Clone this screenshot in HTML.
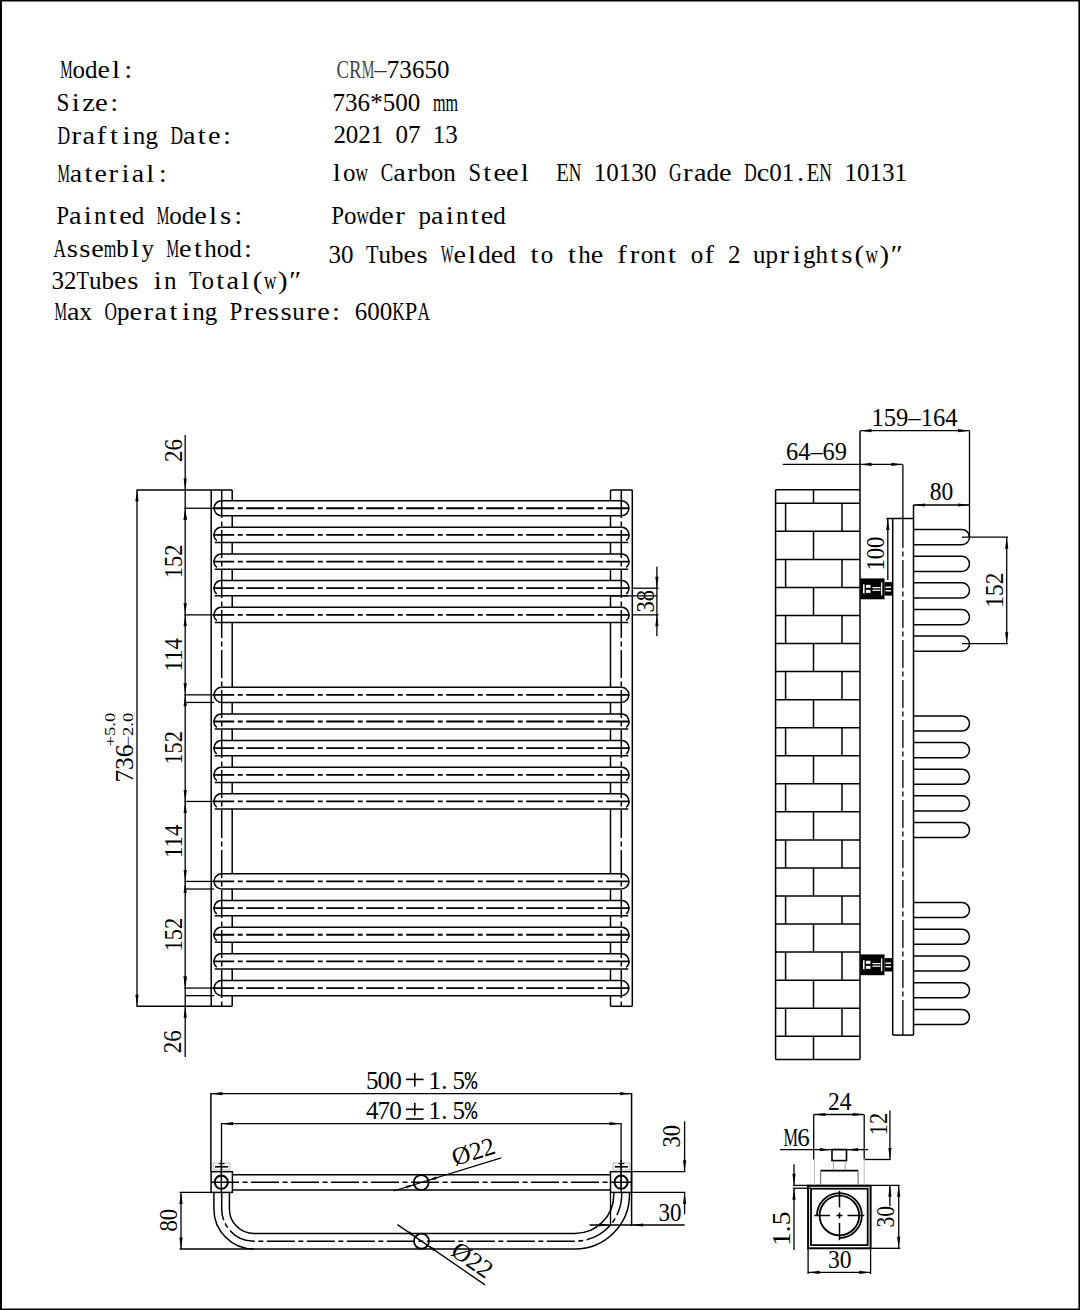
<!DOCTYPE html>
<html><head><meta charset="utf-8"><style>
html,body{margin:0;padding:0;background:#fff;}
svg{display:block;}
text{font-family:"Liberation Serif", serif;}
</style></head><body>
<svg width="1080" height="1310" viewBox="0 0 1080 1310">
<rect width="1080" height="1310" fill="#fff"/>
<rect x="0" y="0" width="2" height="1310" fill="#000"/>
<rect x="0" y="0" width="1080" height="1.5" fill="#000"/>
<rect x="1078.4" y="0" width="1.6" height="1310" fill="#000"/>
<rect x="0" y="1308.5" width="1080" height="1.5" fill="#000"/>
<g font-family="Liberation Serif"><text x="66.48" y="78.2" font-size="25" fill="#000" text-anchor="middle" textLength="12.37" lengthAdjust="spacingAndGlyphs">M</text><text x="78.85" y="78.2" font-size="25" fill="#000" text-anchor="middle">o</text><text x="91.22" y="78.2" font-size="25" fill="#000" text-anchor="middle">d</text><text x="103.59" y="78.2" font-size="25" fill="#000" text-anchor="middle" textLength="12.37" lengthAdjust="spacingAndGlyphs">e</text><text x="115.97" y="78.2" font-size="25" fill="#000" text-anchor="middle" textLength="7.99" lengthAdjust="spacingAndGlyphs">l</text><text x="128.33" y="78.2" font-size="25" fill="#000" text-anchor="middle" textLength="7.99" lengthAdjust="spacingAndGlyphs">:</text></g>
<g font-family="Liberation Serif"><text x="62.92" y="110.6" font-size="25" fill="#000" text-anchor="middle" textLength="12.85" lengthAdjust="spacingAndGlyphs">S</text><text x="75.78" y="110.6" font-size="25" fill="#000" text-anchor="middle" textLength="7.99" lengthAdjust="spacingAndGlyphs">i</text><text x="88.62" y="110.6" font-size="25" fill="#000" text-anchor="middle" textLength="12.76" lengthAdjust="spacingAndGlyphs">z</text><text x="101.47" y="110.6" font-size="25" fill="#000" text-anchor="middle" textLength="12.76" lengthAdjust="spacingAndGlyphs">e</text><text x="114.32" y="110.6" font-size="25" fill="#000" text-anchor="middle" textLength="7.99" lengthAdjust="spacingAndGlyphs">:</text></g>
<g font-family="Liberation Serif"><text x="63.78" y="143.7" font-size="25" fill="#000" text-anchor="middle" textLength="12.55" lengthAdjust="spacingAndGlyphs">D</text><text x="76.33" y="143.7" font-size="25" fill="#000" text-anchor="middle" textLength="9.57" lengthAdjust="spacingAndGlyphs">r</text><text x="88.88" y="143.7" font-size="25" fill="#000" text-anchor="middle" textLength="12.55" lengthAdjust="spacingAndGlyphs">a</text><text x="101.43" y="143.7" font-size="25" fill="#000" text-anchor="middle" textLength="9.57" lengthAdjust="spacingAndGlyphs">f</text><text x="113.98" y="143.7" font-size="25" fill="#000" text-anchor="middle" textLength="7.99" lengthAdjust="spacingAndGlyphs">t</text><text x="126.53" y="143.7" font-size="25" fill="#000" text-anchor="middle" textLength="7.99" lengthAdjust="spacingAndGlyphs">i</text><text x="139.08" y="143.7" font-size="25" fill="#000" text-anchor="middle">n</text><text x="151.63" y="143.7" font-size="25" fill="#000" text-anchor="middle">g</text><text x="176.73" y="143.7" font-size="25" fill="#000" text-anchor="middle" textLength="12.55" lengthAdjust="spacingAndGlyphs">D</text><text x="189.29" y="143.7" font-size="25" fill="#000" text-anchor="middle" textLength="12.55" lengthAdjust="spacingAndGlyphs">a</text><text x="201.84" y="143.7" font-size="25" fill="#000" text-anchor="middle" textLength="7.99" lengthAdjust="spacingAndGlyphs">t</text><text x="214.39" y="143.7" font-size="25" fill="#000" text-anchor="middle" textLength="12.55" lengthAdjust="spacingAndGlyphs">e</text><text x="226.94" y="143.7" font-size="25" fill="#000" text-anchor="middle" textLength="7.99" lengthAdjust="spacingAndGlyphs">:</text></g>
<g font-family="Liberation Serif"><text x="63.69" y="181.5" font-size="25" fill="#000" text-anchor="middle" textLength="12.38" lengthAdjust="spacingAndGlyphs">M</text><text x="76.06" y="181.5" font-size="25" fill="#000" text-anchor="middle" textLength="12.38" lengthAdjust="spacingAndGlyphs">a</text><text x="88.44" y="181.5" font-size="25" fill="#000" text-anchor="middle" textLength="7.99" lengthAdjust="spacingAndGlyphs">t</text><text x="100.81" y="181.5" font-size="25" fill="#000" text-anchor="middle" textLength="12.38" lengthAdjust="spacingAndGlyphs">e</text><text x="113.19" y="181.5" font-size="25" fill="#000" text-anchor="middle" textLength="9.57" lengthAdjust="spacingAndGlyphs">r</text><text x="125.56" y="181.5" font-size="25" fill="#000" text-anchor="middle" textLength="7.99" lengthAdjust="spacingAndGlyphs">i</text><text x="137.94" y="181.5" font-size="25" fill="#000" text-anchor="middle" textLength="12.38" lengthAdjust="spacingAndGlyphs">a</text><text x="150.31" y="181.5" font-size="25" fill="#000" text-anchor="middle" textLength="7.99" lengthAdjust="spacingAndGlyphs">l</text><text x="162.69" y="181.5" font-size="25" fill="#000" text-anchor="middle" textLength="7.99" lengthAdjust="spacingAndGlyphs">:</text></g>
<g font-family="Liberation Serif"><text x="62.76" y="223.9" font-size="25" fill="#000" text-anchor="middle" textLength="12.53" lengthAdjust="spacingAndGlyphs">P</text><text x="75.29" y="223.9" font-size="25" fill="#000" text-anchor="middle" textLength="12.53" lengthAdjust="spacingAndGlyphs">a</text><text x="87.82" y="223.9" font-size="25" fill="#000" text-anchor="middle" textLength="7.99" lengthAdjust="spacingAndGlyphs">i</text><text x="100.35" y="223.9" font-size="25" fill="#000" text-anchor="middle">n</text><text x="112.88" y="223.9" font-size="25" fill="#000" text-anchor="middle" textLength="7.99" lengthAdjust="spacingAndGlyphs">t</text><text x="125.41" y="223.9" font-size="25" fill="#000" text-anchor="middle" textLength="12.53" lengthAdjust="spacingAndGlyphs">e</text><text x="137.94" y="223.9" font-size="25" fill="#000" text-anchor="middle">d</text><text x="163" y="223.9" font-size="25" fill="#000" text-anchor="middle" textLength="12.53" lengthAdjust="spacingAndGlyphs">M</text><text x="175.53" y="223.9" font-size="25" fill="#000" text-anchor="middle">o</text><text x="188.05" y="223.9" font-size="25" fill="#000" text-anchor="middle">d</text><text x="200.58" y="223.9" font-size="25" fill="#000" text-anchor="middle" textLength="12.53" lengthAdjust="spacingAndGlyphs">e</text><text x="213.11" y="223.9" font-size="25" fill="#000" text-anchor="middle" textLength="7.99" lengthAdjust="spacingAndGlyphs">l</text><text x="225.64" y="223.9" font-size="25" fill="#000" text-anchor="middle" textLength="11.19" lengthAdjust="spacingAndGlyphs">s</text><text x="238.17" y="223.9" font-size="25" fill="#000" text-anchor="middle" textLength="7.99" lengthAdjust="spacingAndGlyphs">:</text></g>
<g font-family="Liberation Serif"><text x="59.78" y="257.2" font-size="25" fill="#000" text-anchor="middle" textLength="12.56" lengthAdjust="spacingAndGlyphs">A</text><text x="72.34" y="257.2" font-size="25" fill="#000" text-anchor="middle" textLength="11.19" lengthAdjust="spacingAndGlyphs">s</text><text x="84.89" y="257.2" font-size="25" fill="#000" text-anchor="middle" textLength="11.19" lengthAdjust="spacingAndGlyphs">s</text><text x="97.45" y="257.2" font-size="25" fill="#000" text-anchor="middle" textLength="12.56" lengthAdjust="spacingAndGlyphs">e</text><text x="110.01" y="257.2" font-size="25" fill="#000" text-anchor="middle" textLength="12.56" lengthAdjust="spacingAndGlyphs">m</text><text x="122.56" y="257.2" font-size="25" fill="#000" text-anchor="middle">b</text><text x="135.12" y="257.2" font-size="25" fill="#000" text-anchor="middle" textLength="7.99" lengthAdjust="spacingAndGlyphs">l</text><text x="147.68" y="257.2" font-size="25" fill="#000" text-anchor="middle">y</text><text x="172.79" y="257.2" font-size="25" fill="#000" text-anchor="middle" textLength="12.56" lengthAdjust="spacingAndGlyphs">M</text><text x="185.35" y="257.2" font-size="25" fill="#000" text-anchor="middle" textLength="12.56" lengthAdjust="spacingAndGlyphs">e</text><text x="197.91" y="257.2" font-size="25" fill="#000" text-anchor="middle" textLength="7.99" lengthAdjust="spacingAndGlyphs">t</text><text x="210.46" y="257.2" font-size="25" fill="#000" text-anchor="middle">h</text><text x="223.02" y="257.2" font-size="25" fill="#000" text-anchor="middle">o</text><text x="235.58" y="257.2" font-size="25" fill="#000" text-anchor="middle">d</text><text x="248.13" y="257.2" font-size="25" fill="#000" text-anchor="middle" textLength="7.99" lengthAdjust="spacingAndGlyphs">:</text></g>
<g font-family="Liberation Serif"><text x="57.75" y="289.2" font-size="25" fill="#000" text-anchor="middle">3</text><text x="70.24" y="289.2" font-size="25" fill="#000" text-anchor="middle">2</text><text x="82.74" y="289.2" font-size="25" fill="#000" text-anchor="middle" textLength="12.49" lengthAdjust="spacingAndGlyphs">T</text><text x="95.23" y="289.2" font-size="25" fill="#000" text-anchor="middle">u</text><text x="107.73" y="289.2" font-size="25" fill="#000" text-anchor="middle">b</text><text x="120.22" y="289.2" font-size="25" fill="#000" text-anchor="middle" textLength="12.49" lengthAdjust="spacingAndGlyphs">e</text><text x="132.72" y="289.2" font-size="25" fill="#000" text-anchor="middle" textLength="11.19" lengthAdjust="spacingAndGlyphs">s</text><text x="157.71" y="289.2" font-size="25" fill="#000" text-anchor="middle" textLength="7.99" lengthAdjust="spacingAndGlyphs">i</text><text x="170.2" y="289.2" font-size="25" fill="#000" text-anchor="middle">n</text><text x="195.19" y="289.2" font-size="25" fill="#000" text-anchor="middle" textLength="12.49" lengthAdjust="spacingAndGlyphs">T</text><text x="207.69" y="289.2" font-size="25" fill="#000" text-anchor="middle">o</text><text x="220.18" y="289.2" font-size="25" fill="#000" text-anchor="middle" textLength="7.99" lengthAdjust="spacingAndGlyphs">t</text><text x="232.68" y="289.2" font-size="25" fill="#000" text-anchor="middle" textLength="12.49" lengthAdjust="spacingAndGlyphs">a</text><text x="245.17" y="289.2" font-size="25" fill="#000" text-anchor="middle" textLength="7.99" lengthAdjust="spacingAndGlyphs">l</text><text x="257.67" y="289.2" font-size="25" fill="#000" text-anchor="middle" textLength="9.57" lengthAdjust="spacingAndGlyphs">(</text><text x="270.16" y="289.2" font-size="25" fill="#000" text-anchor="middle" textLength="12.49" lengthAdjust="spacingAndGlyphs">w</text><text x="282.66" y="289.2" font-size="25" fill="#000" text-anchor="middle" textLength="9.57" lengthAdjust="spacingAndGlyphs">)</text><text x="295.15" y="289.2" font-size="25" fill="#000" text-anchor="middle" textLength="11.97" lengthAdjust="spacingAndGlyphs">″</text></g>
<g font-family="Liberation Serif"><text x="60.76" y="319.7" font-size="25" fill="#000" text-anchor="middle" textLength="12.51" lengthAdjust="spacingAndGlyphs">M</text><text x="73.27" y="319.7" font-size="25" fill="#000" text-anchor="middle" textLength="12.51" lengthAdjust="spacingAndGlyphs">a</text><text x="85.78" y="319.7" font-size="25" fill="#000" text-anchor="middle">x</text><text x="110.81" y="319.7" font-size="25" fill="#000" text-anchor="middle" textLength="12.51" lengthAdjust="spacingAndGlyphs">O</text><text x="123.32" y="319.7" font-size="25" fill="#000" text-anchor="middle">p</text><text x="135.83" y="319.7" font-size="25" fill="#000" text-anchor="middle" textLength="12.51" lengthAdjust="spacingAndGlyphs">e</text><text x="148.35" y="319.7" font-size="25" fill="#000" text-anchor="middle" textLength="9.57" lengthAdjust="spacingAndGlyphs">r</text><text x="160.86" y="319.7" font-size="25" fill="#000" text-anchor="middle" textLength="12.51" lengthAdjust="spacingAndGlyphs">a</text><text x="173.37" y="319.7" font-size="25" fill="#000" text-anchor="middle" textLength="7.99" lengthAdjust="spacingAndGlyphs">t</text><text x="185.89" y="319.7" font-size="25" fill="#000" text-anchor="middle" textLength="7.99" lengthAdjust="spacingAndGlyphs">i</text><text x="198.4" y="319.7" font-size="25" fill="#000" text-anchor="middle">n</text><text x="210.91" y="319.7" font-size="25" fill="#000" text-anchor="middle">g</text><text x="235.94" y="319.7" font-size="25" fill="#000" text-anchor="middle" textLength="12.51" lengthAdjust="spacingAndGlyphs">P</text><text x="248.45" y="319.7" font-size="25" fill="#000" text-anchor="middle" textLength="9.57" lengthAdjust="spacingAndGlyphs">r</text><text x="260.96" y="319.7" font-size="25" fill="#000" text-anchor="middle" textLength="12.51" lengthAdjust="spacingAndGlyphs">e</text><text x="273.48" y="319.7" font-size="25" fill="#000" text-anchor="middle" textLength="11.19" lengthAdjust="spacingAndGlyphs">s</text><text x="285.99" y="319.7" font-size="25" fill="#000" text-anchor="middle" textLength="11.19" lengthAdjust="spacingAndGlyphs">s</text><text x="298.5" y="319.7" font-size="25" fill="#000" text-anchor="middle">u</text><text x="311.02" y="319.7" font-size="25" fill="#000" text-anchor="middle" textLength="9.57" lengthAdjust="spacingAndGlyphs">r</text><text x="323.53" y="319.7" font-size="25" fill="#000" text-anchor="middle" textLength="12.51" lengthAdjust="spacingAndGlyphs">e</text><text x="336.04" y="319.7" font-size="25" fill="#000" text-anchor="middle" textLength="7.99" lengthAdjust="spacingAndGlyphs">:</text><text x="361.07" y="319.7" font-size="25" fill="#000" text-anchor="middle">6</text><text x="373.58" y="319.7" font-size="25" fill="#000" text-anchor="middle">0</text><text x="386.09" y="319.7" font-size="25" fill="#000" text-anchor="middle">0</text><text x="398.61" y="319.7" font-size="25" fill="#000" text-anchor="middle" textLength="12.51" lengthAdjust="spacingAndGlyphs">K</text><text x="411.12" y="319.7" font-size="25" fill="#000" text-anchor="middle" textLength="12.51" lengthAdjust="spacingAndGlyphs">P</text><text x="423.63" y="319.7" font-size="25" fill="#000" text-anchor="middle" textLength="12.51" lengthAdjust="spacingAndGlyphs">A</text></g>
<g font-family="Liberation Serif"><text x="342.78" y="77.8" font-size="25" fill="#444" text-anchor="middle" textLength="12.57" lengthAdjust="spacingAndGlyphs">C</text><text x="355.35" y="77.8" font-size="25" fill="#444" text-anchor="middle" textLength="12.57" lengthAdjust="spacingAndGlyphs">R</text><text x="367.92" y="77.8" font-size="25" fill="#444" text-anchor="middle" textLength="12.57" lengthAdjust="spacingAndGlyphs">M</text><text x="380.48" y="77.8" font-size="25" fill="#333" text-anchor="middle">–</text><text x="393.05" y="77.8" font-size="25" fill="#000" text-anchor="middle">7</text><text x="405.62" y="77.8" font-size="25" fill="#000" text-anchor="middle">3</text><text x="418.19" y="77.8" font-size="25" fill="#000" text-anchor="middle">6</text><text x="430.75" y="77.8" font-size="25" fill="#000" text-anchor="middle">5</text><text x="443.32" y="77.8" font-size="25" fill="#000" text-anchor="middle">0</text></g>
<g font-family="Liberation Serif"><text x="338.77" y="110.6" font-size="25" fill="#000" text-anchor="middle">7</text><text x="351.32" y="110.6" font-size="25" fill="#000" text-anchor="middle">3</text><text x="363.87" y="110.6" font-size="25" fill="#000" text-anchor="middle">6</text><text x="376.42" y="110.6" font-size="25" fill="#000" text-anchor="middle">*</text><text x="388.97" y="110.6" font-size="25" fill="#000" text-anchor="middle">5</text><text x="401.52" y="110.6" font-size="25" fill="#000" text-anchor="middle">0</text><text x="414.07" y="110.6" font-size="25" fill="#000" text-anchor="middle">0</text><text x="439.17" y="110.6" font-size="25" fill="#000" text-anchor="middle" textLength="12.55" lengthAdjust="spacingAndGlyphs">m</text><text x="451.72" y="110.6" font-size="25" fill="#000" text-anchor="middle" textLength="12.55" lengthAdjust="spacingAndGlyphs">m</text></g>
<g font-family="Liberation Serif"><text x="339.71" y="143" font-size="25" fill="#000" text-anchor="middle">2</text><text x="352.12" y="143" font-size="25" fill="#000" text-anchor="middle">0</text><text x="364.54" y="143" font-size="25" fill="#000" text-anchor="middle">2</text><text x="376.95" y="143" font-size="25" fill="#000" text-anchor="middle">1</text><text x="401.78" y="143" font-size="25" fill="#000" text-anchor="middle">0</text><text x="414.19" y="143" font-size="25" fill="#000" text-anchor="middle">7</text><text x="439.02" y="143" font-size="25" fill="#000" text-anchor="middle">1</text><text x="451.43" y="143" font-size="25" fill="#000" text-anchor="middle">3</text></g>
<g font-family="Liberation Serif"><text x="336.77" y="180.6" font-size="25" fill="#000" text-anchor="middle" textLength="7.99" lengthAdjust="spacingAndGlyphs">l</text><text x="349.3" y="180.6" font-size="25" fill="#000" text-anchor="middle">o</text><text x="361.84" y="180.6" font-size="25" fill="#000" text-anchor="middle" textLength="12.54" lengthAdjust="spacingAndGlyphs">w</text><text x="386.91" y="180.6" font-size="25" fill="#000" text-anchor="middle" textLength="12.54" lengthAdjust="spacingAndGlyphs">C</text><text x="399.44" y="180.6" font-size="25" fill="#000" text-anchor="middle" textLength="12.54" lengthAdjust="spacingAndGlyphs">a</text><text x="411.98" y="180.6" font-size="25" fill="#000" text-anchor="middle" textLength="9.57" lengthAdjust="spacingAndGlyphs">r</text><text x="424.51" y="180.6" font-size="25" fill="#000" text-anchor="middle">b</text><text x="437.05" y="180.6" font-size="25" fill="#000" text-anchor="middle">o</text><text x="449.58" y="180.6" font-size="25" fill="#000" text-anchor="middle">n</text><text x="474.65" y="180.6" font-size="25" fill="#000" text-anchor="middle" textLength="12.54" lengthAdjust="spacingAndGlyphs">S</text><text x="487.19" y="180.6" font-size="25" fill="#000" text-anchor="middle" textLength="7.99" lengthAdjust="spacingAndGlyphs">t</text><text x="499.72" y="180.6" font-size="25" fill="#000" text-anchor="middle" textLength="12.54" lengthAdjust="spacingAndGlyphs">e</text><text x="512.26" y="180.6" font-size="25" fill="#000" text-anchor="middle" textLength="12.54" lengthAdjust="spacingAndGlyphs">e</text><text x="524.79" y="180.6" font-size="25" fill="#000" text-anchor="middle" textLength="7.99" lengthAdjust="spacingAndGlyphs">l</text><text x="562.4" y="180.6" font-size="25" fill="#000" text-anchor="middle" textLength="12.54" lengthAdjust="spacingAndGlyphs">E</text><text x="574.93" y="180.6" font-size="25" fill="#000" text-anchor="middle" textLength="12.54" lengthAdjust="spacingAndGlyphs">N</text><text x="600" y="180.6" font-size="25" fill="#000" text-anchor="middle">1</text><text x="612.54" y="180.6" font-size="25" fill="#000" text-anchor="middle">0</text><text x="625.07" y="180.6" font-size="25" fill="#000" text-anchor="middle">1</text><text x="637.61" y="180.6" font-size="25" fill="#000" text-anchor="middle">3</text><text x="650.14" y="180.6" font-size="25" fill="#000" text-anchor="middle">0</text><text x="675.21" y="180.6" font-size="25" fill="#000" text-anchor="middle" textLength="12.54" lengthAdjust="spacingAndGlyphs">G</text><text x="687.75" y="180.6" font-size="25" fill="#000" text-anchor="middle" textLength="9.57" lengthAdjust="spacingAndGlyphs">r</text><text x="700.28" y="180.6" font-size="25" fill="#000" text-anchor="middle" textLength="12.54" lengthAdjust="spacingAndGlyphs">a</text><text x="712.82" y="180.6" font-size="25" fill="#000" text-anchor="middle">d</text><text x="725.35" y="180.6" font-size="25" fill="#000" text-anchor="middle" textLength="12.54" lengthAdjust="spacingAndGlyphs">e</text><text x="750.42" y="180.6" font-size="25" fill="#000" text-anchor="middle" textLength="12.54" lengthAdjust="spacingAndGlyphs">D</text><text x="762.96" y="180.6" font-size="25" fill="#000" text-anchor="middle" textLength="12.54" lengthAdjust="spacingAndGlyphs">c</text><text x="775.49" y="180.6" font-size="25" fill="#000" text-anchor="middle">0</text><text x="788.03" y="180.6" font-size="25" fill="#000" text-anchor="middle">1</text><text x="800.56" y="180.6" font-size="25" fill="#000" text-anchor="middle" textLength="7.19" lengthAdjust="spacingAndGlyphs">.</text><text x="813.1" y="180.6" font-size="25" fill="#000" text-anchor="middle" textLength="12.54" lengthAdjust="spacingAndGlyphs">E</text><text x="825.63" y="180.6" font-size="25" fill="#000" text-anchor="middle" textLength="12.54" lengthAdjust="spacingAndGlyphs">N</text><text x="850.7" y="180.6" font-size="25" fill="#000" text-anchor="middle">1</text><text x="863.24" y="180.6" font-size="25" fill="#000" text-anchor="middle">0</text><text x="875.77" y="180.6" font-size="25" fill="#000" text-anchor="middle">1</text><text x="888.31" y="180.6" font-size="25" fill="#000" text-anchor="middle">3</text><text x="900.84" y="180.6" font-size="25" fill="#000" text-anchor="middle">1</text></g>
<g font-family="Liberation Serif"><text x="337.72" y="223.5" font-size="25" fill="#000" text-anchor="middle" textLength="12.45" lengthAdjust="spacingAndGlyphs">P</text><text x="350.17" y="223.5" font-size="25" fill="#000" text-anchor="middle">o</text><text x="362.61" y="223.5" font-size="25" fill="#000" text-anchor="middle" textLength="12.45" lengthAdjust="spacingAndGlyphs">w</text><text x="375.06" y="223.5" font-size="25" fill="#000" text-anchor="middle">d</text><text x="387.5" y="223.5" font-size="25" fill="#000" text-anchor="middle" textLength="12.45" lengthAdjust="spacingAndGlyphs">e</text><text x="399.95" y="223.5" font-size="25" fill="#000" text-anchor="middle" textLength="9.57" lengthAdjust="spacingAndGlyphs">r</text><text x="424.84" y="223.5" font-size="25" fill="#000" text-anchor="middle">p</text><text x="437.28" y="223.5" font-size="25" fill="#000" text-anchor="middle" textLength="12.45" lengthAdjust="spacingAndGlyphs">a</text><text x="449.73" y="223.5" font-size="25" fill="#000" text-anchor="middle" textLength="7.99" lengthAdjust="spacingAndGlyphs">i</text><text x="462.17" y="223.5" font-size="25" fill="#000" text-anchor="middle">n</text><text x="474.62" y="223.5" font-size="25" fill="#000" text-anchor="middle" textLength="7.99" lengthAdjust="spacingAndGlyphs">t</text><text x="487.06" y="223.5" font-size="25" fill="#000" text-anchor="middle" textLength="12.45" lengthAdjust="spacingAndGlyphs">e</text><text x="499.51" y="223.5" font-size="25" fill="#000" text-anchor="middle">d</text></g>
<g font-family="Liberation Serif"><text x="334.74" y="263.2" font-size="25" fill="#000" text-anchor="middle">3</text><text x="347.23" y="263.2" font-size="25" fill="#000" text-anchor="middle">0</text><text x="372.21" y="263.2" font-size="25" fill="#000" text-anchor="middle" textLength="12.49" lengthAdjust="spacingAndGlyphs">T</text><text x="384.7" y="263.2" font-size="25" fill="#000" text-anchor="middle">u</text><text x="397.18" y="263.2" font-size="25" fill="#000" text-anchor="middle">b</text><text x="409.67" y="263.2" font-size="25" fill="#000" text-anchor="middle" textLength="12.49" lengthAdjust="spacingAndGlyphs">e</text><text x="422.16" y="263.2" font-size="25" fill="#000" text-anchor="middle" textLength="11.19" lengthAdjust="spacingAndGlyphs">s</text><text x="447.14" y="263.2" font-size="25" fill="#000" text-anchor="middle" textLength="12.49" lengthAdjust="spacingAndGlyphs">W</text><text x="459.62" y="263.2" font-size="25" fill="#000" text-anchor="middle" textLength="12.49" lengthAdjust="spacingAndGlyphs">e</text><text x="472.11" y="263.2" font-size="25" fill="#000" text-anchor="middle" textLength="7.99" lengthAdjust="spacingAndGlyphs">l</text><text x="484.6" y="263.2" font-size="25" fill="#000" text-anchor="middle">d</text><text x="497.09" y="263.2" font-size="25" fill="#000" text-anchor="middle" textLength="12.49" lengthAdjust="spacingAndGlyphs">e</text><text x="509.58" y="263.2" font-size="25" fill="#000" text-anchor="middle">d</text><text x="534.55" y="263.2" font-size="25" fill="#000" text-anchor="middle" textLength="7.99" lengthAdjust="spacingAndGlyphs">t</text><text x="547.04" y="263.2" font-size="25" fill="#000" text-anchor="middle">o</text><text x="572.02" y="263.2" font-size="25" fill="#000" text-anchor="middle" textLength="7.99" lengthAdjust="spacingAndGlyphs">t</text><text x="584.5" y="263.2" font-size="25" fill="#000" text-anchor="middle">h</text><text x="596.99" y="263.2" font-size="25" fill="#000" text-anchor="middle" textLength="12.49" lengthAdjust="spacingAndGlyphs">e</text><text x="621.97" y="263.2" font-size="25" fill="#000" text-anchor="middle" textLength="9.57" lengthAdjust="spacingAndGlyphs">f</text><text x="634.46" y="263.2" font-size="25" fill="#000" text-anchor="middle" textLength="9.57" lengthAdjust="spacingAndGlyphs">r</text><text x="646.94" y="263.2" font-size="25" fill="#000" text-anchor="middle">o</text><text x="659.43" y="263.2" font-size="25" fill="#000" text-anchor="middle">n</text><text x="671.92" y="263.2" font-size="25" fill="#000" text-anchor="middle" textLength="7.99" lengthAdjust="spacingAndGlyphs">t</text><text x="696.9" y="263.2" font-size="25" fill="#000" text-anchor="middle">o</text><text x="709.38" y="263.2" font-size="25" fill="#000" text-anchor="middle" textLength="9.57" lengthAdjust="spacingAndGlyphs">f</text><text x="734.36" y="263.2" font-size="25" fill="#000" text-anchor="middle">2</text><text x="759.34" y="263.2" font-size="25" fill="#000" text-anchor="middle">u</text><text x="771.82" y="263.2" font-size="25" fill="#000" text-anchor="middle">p</text><text x="784.31" y="263.2" font-size="25" fill="#000" text-anchor="middle" textLength="9.57" lengthAdjust="spacingAndGlyphs">r</text><text x="796.8" y="263.2" font-size="25" fill="#000" text-anchor="middle" textLength="7.99" lengthAdjust="spacingAndGlyphs">i</text><text x="809.29" y="263.2" font-size="25" fill="#000" text-anchor="middle">g</text><text x="821.78" y="263.2" font-size="25" fill="#000" text-anchor="middle">h</text><text x="834.26" y="263.2" font-size="25" fill="#000" text-anchor="middle" textLength="7.99" lengthAdjust="spacingAndGlyphs">t</text><text x="846.75" y="263.2" font-size="25" fill="#000" text-anchor="middle" textLength="11.19" lengthAdjust="spacingAndGlyphs">s</text><text x="859.24" y="263.2" font-size="25" fill="#000" text-anchor="middle" textLength="9.57" lengthAdjust="spacingAndGlyphs">(</text><text x="871.73" y="263.2" font-size="25" fill="#000" text-anchor="middle" textLength="12.49" lengthAdjust="spacingAndGlyphs">w</text><text x="884.22" y="263.2" font-size="25" fill="#000" text-anchor="middle" textLength="9.57" lengthAdjust="spacingAndGlyphs">)</text><text x="896.7" y="263.2" font-size="25" fill="#000" text-anchor="middle" textLength="11.97" lengthAdjust="spacingAndGlyphs">″</text></g>
<line x1="211.2" y1="490" x2="211.2" y2="1006.3" stroke="#000" stroke-width="1.5"/>
<line x1="632.3" y1="490" x2="632.3" y2="1006.3" stroke="#000" stroke-width="1.5"/>
<line x1="232.2" y1="490" x2="232.2" y2="1006.3" stroke="#000" stroke-width="1.5"/>
<line x1="610.5" y1="490" x2="610.5" y2="1006.3" stroke="#000" stroke-width="1.5"/>
<line x1="136.5" y1="490" x2="232.2" y2="490" stroke="#000" stroke-width="1.5"/>
<line x1="610.5" y1="490" x2="632.3" y2="490" stroke="#000" stroke-width="1.5"/>
<line x1="136.5" y1="1006.3" x2="232.2" y2="1006.3" stroke="#000" stroke-width="1.5"/>
<line x1="610.5" y1="1006.3" x2="632.3" y2="1006.3" stroke="#000" stroke-width="1.5"/>
<path d="M221.7 500.64 L621.3 500.64 A7.6 7.6 0 0 1 621.3 515.84 L221.7 515.84 A7.6 7.6 0 0 1 221.7 500.64 Z" fill="#fff"/>
<line x1="221.7" y1="500.64" x2="621.3" y2="500.64" stroke="#000" stroke-width="1.5"/>
<path d="M221.7 500.64 A7.6 7.6 0 0 0 221.7 515.84" fill="none" stroke="#000" stroke-width="1.5"/>
<path d="M621.3 500.64 A7.6 7.6 0 0 1 621.3 515.84" fill="none" stroke="#000" stroke-width="1.5"/>
<line x1="221.7" y1="515.84" x2="621.3" y2="515.84" stroke="#000" stroke-width="1.5"/>
<line x1="213.2" y1="508.24" x2="629.3" y2="508.24" stroke="#000" stroke-width="1.8" stroke-dasharray="28 3.5 5 3.5" stroke-dashoffset="7"/>
<path d="M221.7 527.3 L621.3 527.3 A7.6 7.6 0 0 1 621.3 542.5 L221.7 542.5 A7.6 7.6 0 0 1 221.7 527.3 Z" fill="#fff"/>
<line x1="221.7" y1="527.3" x2="621.3" y2="527.3" stroke="#000" stroke-width="1.5"/>
<path d="M221.7 527.3 A7.6 7.6 0 0 0 216.81 540.72" fill="none" stroke="#000" stroke-width="1.5"/>
<path d="M621.3 527.3 A7.6 7.6 0 0 1 626.19 540.72" fill="none" stroke="#000" stroke-width="1.5"/>
<line x1="214.7" y1="542.5" x2="628.3" y2="542.5" stroke="#000" stroke-width="1.5"/>
<line x1="213.2" y1="534.9" x2="629.3" y2="534.9" stroke="#000" stroke-width="1.8" stroke-dasharray="28 3.5 5 3.5" stroke-dashoffset="7"/>
<path d="M221.7 553.95 L621.3 553.95 A7.6 7.6 0 0 1 621.3 569.15 L221.7 569.15 A7.6 7.6 0 0 1 221.7 553.95 Z" fill="#fff"/>
<line x1="221.7" y1="553.95" x2="621.3" y2="553.95" stroke="#000" stroke-width="1.5"/>
<path d="M221.7 553.95 A7.6 7.6 0 0 0 216.81 567.37" fill="none" stroke="#000" stroke-width="1.5"/>
<path d="M621.3 553.95 A7.6 7.6 0 0 1 626.19 567.37" fill="none" stroke="#000" stroke-width="1.5"/>
<line x1="214.7" y1="569.15" x2="628.3" y2="569.15" stroke="#000" stroke-width="1.5"/>
<line x1="213.2" y1="561.55" x2="629.3" y2="561.55" stroke="#000" stroke-width="1.8" stroke-dasharray="28 3.5 5 3.5" stroke-dashoffset="7"/>
<path d="M221.7 580.61 L621.3 580.61 A7.6 7.6 0 0 1 621.3 595.81 L221.7 595.81 A7.6 7.6 0 0 1 221.7 580.61 Z" fill="#fff"/>
<line x1="221.7" y1="580.61" x2="621.3" y2="580.61" stroke="#000" stroke-width="1.5"/>
<path d="M221.7 580.61 A7.6 7.6 0 0 0 216.81 594.03" fill="none" stroke="#000" stroke-width="1.5"/>
<path d="M621.3 580.61 A7.6 7.6 0 0 1 626.19 594.03" fill="none" stroke="#000" stroke-width="1.5"/>
<line x1="214.7" y1="595.81" x2="628.3" y2="595.81" stroke="#000" stroke-width="1.5"/>
<line x1="213.2" y1="588.21" x2="629.3" y2="588.21" stroke="#000" stroke-width="1.8" stroke-dasharray="28 3.5 5 3.5" stroke-dashoffset="7"/>
<path d="M221.7 607.27 L621.3 607.27 A7.6 7.6 0 0 1 621.3 622.47 L221.7 622.47 A7.6 7.6 0 0 1 221.7 607.27 Z" fill="#fff"/>
<line x1="221.7" y1="607.27" x2="621.3" y2="607.27" stroke="#000" stroke-width="1.5"/>
<path d="M221.7 607.27 A7.6 7.6 0 0 0 216.81 620.69" fill="none" stroke="#000" stroke-width="1.5"/>
<path d="M621.3 607.27 A7.6 7.6 0 0 1 626.19 620.69" fill="none" stroke="#000" stroke-width="1.5"/>
<line x1="214.7" y1="622.47" x2="628.3" y2="622.47" stroke="#000" stroke-width="1.5"/>
<line x1="213.2" y1="614.87" x2="629.3" y2="614.87" stroke="#000" stroke-width="1.8" stroke-dasharray="28 3.5 5 3.5" stroke-dashoffset="7"/>
<path d="M221.7 687.24 L621.3 687.24 A7.6 7.6 0 0 1 621.3 702.44 L221.7 702.44 A7.6 7.6 0 0 1 221.7 687.24 Z" fill="#fff"/>
<line x1="221.7" y1="687.24" x2="621.3" y2="687.24" stroke="#000" stroke-width="1.5"/>
<path d="M221.7 687.24 A7.6 7.6 0 0 0 221.7 702.44" fill="none" stroke="#000" stroke-width="1.5"/>
<path d="M621.3 687.24 A7.6 7.6 0 0 1 621.3 702.44" fill="none" stroke="#000" stroke-width="1.5"/>
<line x1="221.7" y1="702.44" x2="621.3" y2="702.44" stroke="#000" stroke-width="1.5"/>
<line x1="213.2" y1="694.84" x2="629.3" y2="694.84" stroke="#000" stroke-width="1.8" stroke-dasharray="28 3.5 5 3.5" stroke-dashoffset="7"/>
<path d="M221.7 713.89 L621.3 713.89 A7.6 7.6 0 0 1 621.3 729.09 L221.7 729.09 A7.6 7.6 0 0 1 221.7 713.89 Z" fill="#fff"/>
<line x1="221.7" y1="713.89" x2="621.3" y2="713.89" stroke="#000" stroke-width="1.5"/>
<path d="M221.7 713.89 A7.6 7.6 0 0 0 216.81 727.32" fill="none" stroke="#000" stroke-width="1.5"/>
<path d="M621.3 713.89 A7.6 7.6 0 0 1 626.19 727.32" fill="none" stroke="#000" stroke-width="1.5"/>
<line x1="214.7" y1="729.09" x2="628.3" y2="729.09" stroke="#000" stroke-width="1.5"/>
<line x1="213.2" y1="721.49" x2="629.3" y2="721.49" stroke="#000" stroke-width="1.8" stroke-dasharray="28 3.5 5 3.5" stroke-dashoffset="7"/>
<path d="M221.7 740.55 L621.3 740.55 A7.6 7.6 0 0 1 621.3 755.75 L221.7 755.75 A7.6 7.6 0 0 1 221.7 740.55 Z" fill="#fff"/>
<line x1="221.7" y1="740.55" x2="621.3" y2="740.55" stroke="#000" stroke-width="1.5"/>
<path d="M221.7 740.55 A7.6 7.6 0 0 0 216.81 753.97" fill="none" stroke="#000" stroke-width="1.5"/>
<path d="M621.3 740.55 A7.6 7.6 0 0 1 626.19 753.97" fill="none" stroke="#000" stroke-width="1.5"/>
<line x1="214.7" y1="755.75" x2="628.3" y2="755.75" stroke="#000" stroke-width="1.5"/>
<line x1="213.2" y1="748.15" x2="629.3" y2="748.15" stroke="#000" stroke-width="1.8" stroke-dasharray="28 3.5 5 3.5" stroke-dashoffset="7"/>
<path d="M221.7 767.21 L621.3 767.21 A7.6 7.6 0 0 1 621.3 782.41 L221.7 782.41 A7.6 7.6 0 0 1 221.7 767.21 Z" fill="#fff"/>
<line x1="221.7" y1="767.21" x2="621.3" y2="767.21" stroke="#000" stroke-width="1.5"/>
<path d="M221.7 767.21 A7.6 7.6 0 0 0 216.81 780.63" fill="none" stroke="#000" stroke-width="1.5"/>
<path d="M621.3 767.21 A7.6 7.6 0 0 1 626.19 780.63" fill="none" stroke="#000" stroke-width="1.5"/>
<line x1="214.7" y1="782.41" x2="628.3" y2="782.41" stroke="#000" stroke-width="1.5"/>
<line x1="213.2" y1="774.81" x2="629.3" y2="774.81" stroke="#000" stroke-width="1.8" stroke-dasharray="28 3.5 5 3.5" stroke-dashoffset="7"/>
<path d="M221.7 793.86 L621.3 793.86 A7.6 7.6 0 0 1 621.3 809.06 L221.7 809.06 A7.6 7.6 0 0 1 221.7 793.86 Z" fill="#fff"/>
<line x1="221.7" y1="793.86" x2="621.3" y2="793.86" stroke="#000" stroke-width="1.5"/>
<path d="M221.7 793.86 A7.6 7.6 0 0 0 216.81 807.29" fill="none" stroke="#000" stroke-width="1.5"/>
<path d="M621.3 793.86 A7.6 7.6 0 0 1 626.19 807.29" fill="none" stroke="#000" stroke-width="1.5"/>
<line x1="214.7" y1="809.06" x2="628.3" y2="809.06" stroke="#000" stroke-width="1.5"/>
<line x1="213.2" y1="801.46" x2="629.3" y2="801.46" stroke="#000" stroke-width="1.8" stroke-dasharray="28 3.5 5 3.5" stroke-dashoffset="7"/>
<path d="M221.7 873.83 L621.3 873.83 A7.6 7.6 0 0 1 621.3 889.03 L221.7 889.03 A7.6 7.6 0 0 1 221.7 873.83 Z" fill="#fff"/>
<line x1="221.7" y1="873.83" x2="621.3" y2="873.83" stroke="#000" stroke-width="1.5"/>
<path d="M221.7 873.83 A7.6 7.6 0 0 0 221.7 889.03" fill="none" stroke="#000" stroke-width="1.5"/>
<path d="M621.3 873.83 A7.6 7.6 0 0 1 621.3 889.03" fill="none" stroke="#000" stroke-width="1.5"/>
<line x1="221.7" y1="889.03" x2="621.3" y2="889.03" stroke="#000" stroke-width="1.5"/>
<line x1="213.2" y1="881.43" x2="629.3" y2="881.43" stroke="#000" stroke-width="1.8" stroke-dasharray="28 3.5 5 3.5" stroke-dashoffset="7"/>
<path d="M221.7 900.49 L621.3 900.49 A7.6 7.6 0 0 1 621.3 915.69 L221.7 915.69 A7.6 7.6 0 0 1 221.7 900.49 Z" fill="#fff"/>
<line x1="221.7" y1="900.49" x2="621.3" y2="900.49" stroke="#000" stroke-width="1.5"/>
<path d="M221.7 900.49 A7.6 7.6 0 0 0 216.81 913.91" fill="none" stroke="#000" stroke-width="1.5"/>
<path d="M621.3 900.49 A7.6 7.6 0 0 1 626.19 913.91" fill="none" stroke="#000" stroke-width="1.5"/>
<line x1="214.7" y1="915.69" x2="628.3" y2="915.69" stroke="#000" stroke-width="1.5"/>
<line x1="213.2" y1="908.09" x2="629.3" y2="908.09" stroke="#000" stroke-width="1.8" stroke-dasharray="28 3.5 5 3.5" stroke-dashoffset="7"/>
<path d="M221.7 927.15 L621.3 927.15 A7.6 7.6 0 0 1 621.3 942.35 L221.7 942.35 A7.6 7.6 0 0 1 221.7 927.15 Z" fill="#fff"/>
<line x1="221.7" y1="927.15" x2="621.3" y2="927.15" stroke="#000" stroke-width="1.5"/>
<path d="M221.7 927.15 A7.6 7.6 0 0 0 216.81 940.57" fill="none" stroke="#000" stroke-width="1.5"/>
<path d="M621.3 927.15 A7.6 7.6 0 0 1 626.19 940.57" fill="none" stroke="#000" stroke-width="1.5"/>
<line x1="214.7" y1="942.35" x2="628.3" y2="942.35" stroke="#000" stroke-width="1.5"/>
<line x1="213.2" y1="934.75" x2="629.3" y2="934.75" stroke="#000" stroke-width="1.8" stroke-dasharray="28 3.5 5 3.5" stroke-dashoffset="7"/>
<path d="M221.7 953.8 L621.3 953.8 A7.6 7.6 0 0 1 621.3 969 L221.7 969 A7.6 7.6 0 0 1 221.7 953.8 Z" fill="#fff"/>
<line x1="221.7" y1="953.8" x2="621.3" y2="953.8" stroke="#000" stroke-width="1.5"/>
<path d="M221.7 953.8 A7.6 7.6 0 0 0 216.81 967.23" fill="none" stroke="#000" stroke-width="1.5"/>
<path d="M621.3 953.8 A7.6 7.6 0 0 1 626.19 967.23" fill="none" stroke="#000" stroke-width="1.5"/>
<line x1="214.7" y1="969" x2="628.3" y2="969" stroke="#000" stroke-width="1.5"/>
<line x1="213.2" y1="961.4" x2="629.3" y2="961.4" stroke="#000" stroke-width="1.8" stroke-dasharray="28 3.5 5 3.5" stroke-dashoffset="7"/>
<path d="M221.7 980.46 L621.3 980.46 A7.6 7.6 0 0 1 621.3 995.66 L221.7 995.66 A7.6 7.6 0 0 1 221.7 980.46 Z" fill="#fff"/>
<line x1="221.7" y1="980.46" x2="621.3" y2="980.46" stroke="#000" stroke-width="1.5"/>
<path d="M221.7 980.46 A7.6 7.6 0 0 0 221.7 995.66" fill="none" stroke="#000" stroke-width="1.5"/>
<path d="M621.3 980.46 A7.6 7.6 0 0 1 621.3 995.66" fill="none" stroke="#000" stroke-width="1.5"/>
<line x1="221.7" y1="995.66" x2="621.3" y2="995.66" stroke="#000" stroke-width="1.5"/>
<line x1="213.2" y1="988.06" x2="629.3" y2="988.06" stroke="#000" stroke-width="1.8" stroke-dasharray="28 3.5 5 3.5" stroke-dashoffset="7"/>
<line x1="221.7" y1="490" x2="221.7" y2="1006.3" stroke="#000" stroke-width="1.5" stroke-dasharray="28 3.5 5 3.5"/>
<line x1="621.3" y1="490" x2="621.3" y2="1006.3" stroke="#000" stroke-width="1.5" stroke-dasharray="28 3.5 5 3.5"/>
<line x1="137" y1="490" x2="137" y2="1006.3" stroke="#000" stroke-width="1.3"/>
<path d="M137 490 L138.6 501.5 L135.4 501.5 Z" fill="#000"/>
<path d="M137 1006.3 L135.4 994.8 L138.6 994.8 Z" fill="#000"/>
<line x1="185.2" y1="435" x2="185.2" y2="1057" stroke="#000" stroke-width="1.3"/>
<line x1="184.2" y1="508.24" x2="214.2" y2="508.24" stroke="#000" stroke-width="1.3"/>
<line x1="184.2" y1="614.87" x2="214.2" y2="614.87" stroke="#000" stroke-width="1.3"/>
<line x1="184.2" y1="694.84" x2="214.2" y2="694.84" stroke="#000" stroke-width="1.3"/>
<line x1="184.2" y1="801.46" x2="214.2" y2="801.46" stroke="#000" stroke-width="1.3"/>
<line x1="184.2" y1="881.43" x2="214.2" y2="881.43" stroke="#000" stroke-width="1.3"/>
<line x1="184.2" y1="988.06" x2="214.2" y2="988.06" stroke="#000" stroke-width="1.3"/>
<line x1="185.2" y1="702.44" x2="214.2" y2="702.44" stroke="#000" stroke-width="1.3"/>
<line x1="185.2" y1="889.03" x2="214.2" y2="889.03" stroke="#000" stroke-width="1.3"/>
<line x1="185.2" y1="995.66" x2="214.2" y2="995.66" stroke="#000" stroke-width="1.3"/>
<path d="M185.2 490 L183.6 478.5 L186.8 478.5 Z" fill="#000"/>
<path d="M185.2 508.24 L186.8 519.74 L183.6 519.74 Z" fill="#000"/>
<path d="M185.2 508.24 L186.8 519.74 L183.6 519.74 Z" fill="#000"/>
<path d="M185.2 614.87 L183.6 603.37 L186.8 603.37 Z" fill="#000"/>
<path d="M185.2 614.87 L186.8 626.37 L183.6 626.37 Z" fill="#000"/>
<path d="M185.2 694.84 L183.6 683.34 L186.8 683.34 Z" fill="#000"/>
<path d="M185.2 694.84 L186.8 706.34 L183.6 706.34 Z" fill="#000"/>
<path d="M185.2 801.46 L183.6 789.96 L186.8 789.96 Z" fill="#000"/>
<path d="M185.2 801.46 L186.8 812.96 L183.6 812.96 Z" fill="#000"/>
<path d="M185.2 881.43 L183.6 869.93 L186.8 869.93 Z" fill="#000"/>
<path d="M185.2 881.43 L186.8 892.93 L183.6 892.93 Z" fill="#000"/>
<path d="M185.2 988.06 L183.6 976.56 L186.8 976.56 Z" fill="#000"/>
<path d="M185.2 988.06 L183.6 976.56 L186.8 976.56 Z" fill="#000"/>
<path d="M185.2 1006.3 L186.8 1017.8 L183.6 1017.8 Z" fill="#000"/>
<g transform="translate(173.3 450.5) rotate(-90)"><text x="0" y="8.25" font-size="25" font-family="Liberation Serif" text-anchor="middle" textLength="23" lengthAdjust="spacingAndGlyphs">26</text></g>
<g transform="translate(173.4 561.4) rotate(-90)"><text x="0" y="8.25" font-size="25" font-family="Liberation Serif" text-anchor="middle" textLength="33.5" lengthAdjust="spacingAndGlyphs">152</text></g>
<g transform="translate(173.4 654.8) rotate(-90)"><text x="0" y="8.25" font-size="25" font-family="Liberation Serif" text-anchor="middle" textLength="33.5" lengthAdjust="spacingAndGlyphs">114</text></g>
<g transform="translate(173.4 747.8) rotate(-90)"><text x="0" y="8.25" font-size="25" font-family="Liberation Serif" text-anchor="middle" textLength="33.5" lengthAdjust="spacingAndGlyphs">152</text></g>
<g transform="translate(173.4 841.3) rotate(-90)"><text x="0" y="8.25" font-size="25" font-family="Liberation Serif" text-anchor="middle" textLength="33.5" lengthAdjust="spacingAndGlyphs">114</text></g>
<g transform="translate(173.4 934.6) rotate(-90)"><text x="0" y="8.25" font-size="25" font-family="Liberation Serif" text-anchor="middle" textLength="33.5" lengthAdjust="spacingAndGlyphs">152</text></g>
<g transform="translate(172.8 1041.7) rotate(-90)"><text x="0" y="8.25" font-size="25" font-family="Liberation Serif" text-anchor="middle" textLength="23" lengthAdjust="spacingAndGlyphs">26</text></g>
<g transform="translate(124.7 763.6) rotate(-90)"><text x="0" y="8.25" font-size="25" font-family="Liberation Serif" text-anchor="middle" textLength="38" lengthAdjust="spacingAndGlyphs">736</text></g>
<g transform="translate(110.5 729.6) rotate(-90)"><text x="0" y="4.95" font-size="15" font-family="Liberation Serif" text-anchor="middle" textLength="33.8" lengthAdjust="spacingAndGlyphs">+5.0</text></g>
<g transform="translate(127.8 729.6) rotate(-90)"><text x="0" y="4.95" font-size="15" font-family="Liberation Serif" text-anchor="middle" textLength="33.8" lengthAdjust="spacingAndGlyphs">−2.0</text></g>
<line x1="632.3" y1="588.21" x2="658.5" y2="588.21" stroke="#000" stroke-width="1.3"/>
<line x1="632.3" y1="614.87" x2="658.5" y2="614.87" stroke="#000" stroke-width="1.3"/>
<line x1="610.5" y1="595.81" x2="656.9" y2="595.81" stroke="#000" stroke-width="1.3"/>
<line x1="656.9" y1="566.7" x2="656.9" y2="636.3" stroke="#000" stroke-width="1.3"/>
<path d="M656.9 588.21 L655.3 576.71 L658.5 576.71 Z" fill="#000"/>
<path d="M656.9 614.87 L658.5 626.37 L655.3 626.37 Z" fill="#000"/>
<g transform="translate(645.3 601.3) rotate(-90)"><text x="0" y="8.25" font-size="25" font-family="Liberation Serif" text-anchor="middle" textLength="22.5" lengthAdjust="spacingAndGlyphs">38</text></g>
<rect x="211.1" y="1171.7" width="21.3" height="20.7" fill="none" stroke="#000" stroke-width="1.5"/>
<rect x="610.5" y="1171.7" width="21" height="20.7" fill="none" stroke="#000" stroke-width="1.5"/>
<circle cx="221.3" cy="1182.2" r="6.6" fill="none" stroke="#000" stroke-width="2"/>
<circle cx="621.1" cy="1182.2" r="6.6" fill="none" stroke="#000" stroke-width="2"/>
<line x1="232.4" y1="1174.8" x2="610.5" y2="1174.8" stroke="#000" stroke-width="1.5"/>
<line x1="232.4" y1="1190.1" x2="610.5" y2="1190.1" stroke="#000" stroke-width="1.5"/>
<line x1="211.1" y1="1182.2" x2="631.5" y2="1182.2" stroke="#000" stroke-width="1.5" stroke-dasharray="28 3.5 5 3.5"/>
<path d="M213.9 1192.4 L213.9 1209 A40 40 0 0 0 253.9 1249 L575 1249 A54.5 54.5 0 0 0 629.5 1194.5 L629.5 1192.4" fill="none" stroke="#000" stroke-width="1.5"/>
<path d="M229.4 1192.4 L229.4 1209 A24.5 24.5 0 0 0 253.9 1233.5 L575 1233.5 A38.8 38.8 0 0 0 613.8 1194.5 L613.8 1192.4" fill="none" stroke="#000" stroke-width="1.5"/>
<path d="M221.7 1192.4 L221.7 1209 A32.2 32.2 0 0 0 253.9 1241.2 L575 1241.2 A46.7 46.7 0 0 0 621.7 1194.5 L621.7 1192.4" fill="none" stroke="#000" stroke-width="1.5" stroke-dasharray="28 3.5 5 3.5"/>
<line x1="210.9" y1="1093" x2="210.9" y2="1171.7" stroke="#000" stroke-width="1.5"/>
<line x1="631.6" y1="1093" x2="631.6" y2="1226" stroke="#000" stroke-width="1.5"/>
<line x1="210.9" y1="1093.7" x2="631.6" y2="1093.7" stroke="#000" stroke-width="1.3"/>
<path d="M210.9 1093.7 L222.4 1092.1 L222.4 1095.3 Z" fill="#000"/>
<path d="M631.6 1093.7 L620.1 1095.3 L620.1 1092.1 Z" fill="#000"/>
<line x1="221.5" y1="1123" x2="221.5" y2="1182.2" stroke="#000" stroke-width="1.3"/>
<line x1="621.1" y1="1123" x2="621.1" y2="1188.2" stroke="#000" stroke-width="1.3"/>
<line x1="221.5" y1="1123.7" x2="621.1" y2="1123.7" stroke="#000" stroke-width="1.3"/>
<path d="M221.5 1123.7 L233 1122.1 L233 1125.3 Z" fill="#000"/>
<path d="M621.1 1123.7 L609.6 1125.3 L609.6 1122.1 Z" fill="#000"/>
<text x="366" y="1089.2" font-size="25" fill="#000" style="font-family:'Liberation Serif', serif;white-space:pre">5</text>
<text x="377.6" y="1089.2" font-size="25" fill="#000" style="font-family:'Liberation Serif', serif;white-space:pre">0</text>
<text x="389.2" y="1089.2" font-size="25" fill="#000" style="font-family:'Liberation Serif', serif;white-space:pre">0</text>
<text x="428.6" y="1089.2" font-size="25" fill="#000" style="font-family:'Liberation Serif', serif;white-space:pre">1</text>
<text x="441.2" y="1089.2" font-size="25" fill="#000" style="font-family:'Liberation Serif', serif;white-space:pre">.</text>
<text x="452.6" y="1089.2" font-size="25" fill="#000" style="font-family:'Liberation Serif', serif;white-space:pre">5</text>
<text x="464.7" y="1089.2" font-size="25" fill="#000" style="font-family:'Liberation Mono', monospace;white-space:pre" textLength="12.5" lengthAdjust="spacingAndGlyphs">%</text>
<line x1="406" y1="1079.4" x2="423.6" y2="1079.4" stroke="#000" stroke-width="1.6"/>
<line x1="414.8" y1="1073" x2="414.8" y2="1086.4" stroke="#000" stroke-width="1.6"/>
<text x="366" y="1118.6" font-size="25" fill="#000" style="font-family:'Liberation Serif', serif;white-space:pre">4</text>
<text x="377.6" y="1118.6" font-size="25" fill="#000" style="font-family:'Liberation Serif', serif;white-space:pre">7</text>
<text x="389.2" y="1118.6" font-size="25" fill="#000" style="font-family:'Liberation Serif', serif;white-space:pre">0</text>
<text x="428.6" y="1118.6" font-size="25" fill="#000" style="font-family:'Liberation Serif', serif;white-space:pre">1</text>
<text x="441.2" y="1118.6" font-size="25" fill="#000" style="font-family:'Liberation Serif', serif;white-space:pre">.</text>
<text x="452.6" y="1118.6" font-size="25" fill="#000" style="font-family:'Liberation Serif', serif;white-space:pre">5</text>
<text x="464.7" y="1118.6" font-size="25" fill="#000" style="font-family:'Liberation Mono', monospace;white-space:pre" textLength="12.5" lengthAdjust="spacingAndGlyphs">%</text>
<line x1="406" y1="1109.3" x2="423.6" y2="1109.3" stroke="#000" stroke-width="1.6"/>
<line x1="414.8" y1="1102.8" x2="414.8" y2="1115.5" stroke="#000" stroke-width="1.6"/>
<line x1="406" y1="1119" x2="423.6" y2="1119" stroke="#000" stroke-width="1.6"/>
<rect x="213.3" y="1163" width="16.6" height="7" fill="none" stroke="#bbb" stroke-width="1"/>
<line x1="215" y1="1166.8" x2="228.1" y2="1166.8" stroke="#000" stroke-width="1.6"/>
<line x1="218.8" y1="1163.6" x2="224.5" y2="1163.6" stroke="#000" stroke-width="1.2"/>
<line x1="221.3" y1="1160" x2="221.3" y2="1192.4" stroke="#000" stroke-width="1.3"/>
<rect x="613.1" y="1163" width="16.6" height="7" fill="none" stroke="#bbb" stroke-width="1"/>
<line x1="614.8" y1="1166.8" x2="627.9" y2="1166.8" stroke="#000" stroke-width="1.6"/>
<line x1="618.6" y1="1163.6" x2="624.3" y2="1163.6" stroke="#000" stroke-width="1.2"/>
<line x1="621.1" y1="1160" x2="621.1" y2="1192.4" stroke="#000" stroke-width="1.3"/>
<line x1="179.6" y1="1192.4" x2="211.1" y2="1192.4" stroke="#000" stroke-width="1.3"/>
<line x1="179.6" y1="1249" x2="254" y2="1249" stroke="#000" stroke-width="1.3"/>
<line x1="181" y1="1192.4" x2="181" y2="1249" stroke="#000" stroke-width="1.3"/>
<path d="M181 1192.4 L182.6 1203.9 L179.4 1203.9 Z" fill="#000"/>
<path d="M181 1249 L179.4 1237.5 L182.6 1237.5 Z" fill="#000"/>
<g transform="translate(168.7 1220.3) rotate(-90)"><text x="0" y="8.25" font-size="25" font-family="Liberation Serif" text-anchor="middle" textLength="22.6" lengthAdjust="spacingAndGlyphs">80</text></g>
<line x1="631.6" y1="1171.7" x2="685.3" y2="1171.7" stroke="#000" stroke-width="1.3"/>
<line x1="631.6" y1="1192.4" x2="685.3" y2="1192.4" stroke="#000" stroke-width="1.3"/>
<line x1="684.6" y1="1121.3" x2="684.6" y2="1171.7" stroke="#000" stroke-width="1.3"/>
<path d="M684.6 1171.7 L683 1160.2 L686.2 1160.2 Z" fill="#000"/>
<line x1="684.6" y1="1192.4" x2="684.6" y2="1214.2" stroke="#000" stroke-width="1.3"/>
<path d="M684.6 1192.4 L686.2 1203.9 L683 1203.9 Z" fill="#000"/>
<g transform="translate(672 1136.3) rotate(-90)"><text x="0" y="8.25" font-size="25" font-family="Liberation Serif" text-anchor="middle" textLength="22.5" lengthAdjust="spacingAndGlyphs">30</text></g>
<text x="658.5" y="1220.7" font-size="25" fill="#000" style="font-family:'Liberation Serif', serif;white-space:pre" textLength="23" lengthAdjust="spacingAndGlyphs">30</text>
<line x1="610.5" y1="1192.4" x2="610.5" y2="1226" stroke="#000" stroke-width="1.3"/>
<line x1="589.6" y1="1225" x2="684.6" y2="1225" stroke="#000" stroke-width="1.3"/>
<path d="M610.5 1225 L599 1226.6 L599 1223.4 Z" fill="#000"/>
<path d="M631.6 1225 L643.1 1223.4 L643.1 1226.6 Z" fill="#000"/>
<circle cx="421.2" cy="1182.5" r="7.45" fill="none" stroke="#000" stroke-width="1.8"/>
<circle cx="421.5" cy="1241.2" r="7.5" fill="none" stroke="#000" stroke-width="1.8"/>
<line x1="393.6" y1="1191" x2="501.2" y2="1157.9" stroke="#000" stroke-width="1.3"/>
<path d="M413.9 1184.8 L406.69 1188.59 L405.81 1185.72 Z" fill="#000"/>
<path d="M428.7 1180.2 L435.91 1176.41 L436.79 1179.28 Z" fill="#000"/>
<g transform="translate(475.8 1159.5) rotate(-17.1)"><text x="0" y="0" font-size="25" font-family="Liberation Serif" text-anchor="middle" textLength="44" lengthAdjust="spacingAndGlyphs">Ø22</text></g>
<line x1="397.5" y1="1224.6" x2="485" y2="1284.9" stroke="#000" stroke-width="1.3"/>
<path d="M415.4 1236.9 L407.96 1233.6 L409.66 1231.13 Z" fill="#000"/>
<path d="M427.6 1245.3 L435.04 1248.6 L433.34 1251.07 Z" fill="#000"/>
<g transform="translate(467.7 1266.7) rotate(34.57)"><text x="0" y="0" font-size="25" font-family="Liberation Serif" text-anchor="middle" textLength="44" lengthAdjust="spacingAndGlyphs">Ø22</text></g>
<line x1="775.6" y1="489.8" x2="775.6" y2="1059.6" stroke="#000" stroke-width="1.5"/>
<line x1="860" y1="430.7" x2="860" y2="1059.6" stroke="#000" stroke-width="1.5"/>
<line x1="775.6" y1="489.8" x2="860" y2="489.8" stroke="#000" stroke-width="1.5"/>
<line x1="775.6" y1="1059.6" x2="860" y2="1059.6" stroke="#000" stroke-width="1.5"/>
<line x1="775.6" y1="503.3" x2="860" y2="503.3" stroke="#000" stroke-width="1.5"/>
<line x1="775.6" y1="531.35" x2="860" y2="531.35" stroke="#000" stroke-width="1.5"/>
<line x1="775.6" y1="559.4" x2="860" y2="559.4" stroke="#000" stroke-width="1.5"/>
<line x1="775.6" y1="587.45" x2="860" y2="587.45" stroke="#000" stroke-width="1.5"/>
<line x1="775.6" y1="615.5" x2="860" y2="615.5" stroke="#000" stroke-width="1.5"/>
<line x1="775.6" y1="643.55" x2="860" y2="643.55" stroke="#000" stroke-width="1.5"/>
<line x1="775.6" y1="671.6" x2="860" y2="671.6" stroke="#000" stroke-width="1.5"/>
<line x1="775.6" y1="699.65" x2="860" y2="699.65" stroke="#000" stroke-width="1.5"/>
<line x1="775.6" y1="727.7" x2="860" y2="727.7" stroke="#000" stroke-width="1.5"/>
<line x1="775.6" y1="755.75" x2="860" y2="755.75" stroke="#000" stroke-width="1.5"/>
<line x1="775.6" y1="783.8" x2="860" y2="783.8" stroke="#000" stroke-width="1.5"/>
<line x1="775.6" y1="811.85" x2="860" y2="811.85" stroke="#000" stroke-width="1.5"/>
<line x1="775.6" y1="839.9" x2="860" y2="839.9" stroke="#000" stroke-width="1.5"/>
<line x1="775.6" y1="867.95" x2="860" y2="867.95" stroke="#000" stroke-width="1.5"/>
<line x1="775.6" y1="896" x2="860" y2="896" stroke="#000" stroke-width="1.5"/>
<line x1="775.6" y1="924.05" x2="860" y2="924.05" stroke="#000" stroke-width="1.5"/>
<line x1="775.6" y1="952.1" x2="860" y2="952.1" stroke="#000" stroke-width="1.5"/>
<line x1="775.6" y1="980.15" x2="860" y2="980.15" stroke="#000" stroke-width="1.5"/>
<line x1="775.6" y1="1008.2" x2="860" y2="1008.2" stroke="#000" stroke-width="1.5"/>
<line x1="775.6" y1="1036.25" x2="860" y2="1036.25" stroke="#000" stroke-width="1.5"/>
<line x1="813.5" y1="489.8" x2="813.5" y2="503.3" stroke="#000" stroke-width="1.5"/>
<line x1="785.6" y1="503.3" x2="785.6" y2="531.35" stroke="#000" stroke-width="1.5"/>
<line x1="842" y1="503.3" x2="842" y2="531.35" stroke="#000" stroke-width="1.5"/>
<line x1="813.5" y1="531.35" x2="813.5" y2="559.4" stroke="#000" stroke-width="1.5"/>
<line x1="785.6" y1="559.4" x2="785.6" y2="587.45" stroke="#000" stroke-width="1.5"/>
<line x1="842" y1="559.4" x2="842" y2="587.45" stroke="#000" stroke-width="1.5"/>
<line x1="813.5" y1="587.45" x2="813.5" y2="615.5" stroke="#000" stroke-width="1.5"/>
<line x1="785.6" y1="615.5" x2="785.6" y2="643.55" stroke="#000" stroke-width="1.5"/>
<line x1="842" y1="615.5" x2="842" y2="643.55" stroke="#000" stroke-width="1.5"/>
<line x1="813.5" y1="643.55" x2="813.5" y2="671.6" stroke="#000" stroke-width="1.5"/>
<line x1="785.6" y1="671.6" x2="785.6" y2="699.65" stroke="#000" stroke-width="1.5"/>
<line x1="842" y1="671.6" x2="842" y2="699.65" stroke="#000" stroke-width="1.5"/>
<line x1="813.5" y1="699.65" x2="813.5" y2="727.7" stroke="#000" stroke-width="1.5"/>
<line x1="785.6" y1="727.7" x2="785.6" y2="755.75" stroke="#000" stroke-width="1.5"/>
<line x1="842" y1="727.7" x2="842" y2="755.75" stroke="#000" stroke-width="1.5"/>
<line x1="813.5" y1="755.75" x2="813.5" y2="783.8" stroke="#000" stroke-width="1.5"/>
<line x1="785.6" y1="783.8" x2="785.6" y2="811.85" stroke="#000" stroke-width="1.5"/>
<line x1="842" y1="783.8" x2="842" y2="811.85" stroke="#000" stroke-width="1.5"/>
<line x1="813.5" y1="811.85" x2="813.5" y2="839.9" stroke="#000" stroke-width="1.5"/>
<line x1="785.6" y1="839.9" x2="785.6" y2="867.95" stroke="#000" stroke-width="1.5"/>
<line x1="842" y1="839.9" x2="842" y2="867.95" stroke="#000" stroke-width="1.5"/>
<line x1="813.5" y1="867.95" x2="813.5" y2="896" stroke="#000" stroke-width="1.5"/>
<line x1="785.6" y1="896" x2="785.6" y2="924.05" stroke="#000" stroke-width="1.5"/>
<line x1="842" y1="896" x2="842" y2="924.05" stroke="#000" stroke-width="1.5"/>
<line x1="813.5" y1="924.05" x2="813.5" y2="952.1" stroke="#000" stroke-width="1.5"/>
<line x1="785.6" y1="952.1" x2="785.6" y2="980.15" stroke="#000" stroke-width="1.5"/>
<line x1="842" y1="952.1" x2="842" y2="980.15" stroke="#000" stroke-width="1.5"/>
<line x1="813.5" y1="980.15" x2="813.5" y2="1008.2" stroke="#000" stroke-width="1.5"/>
<line x1="785.6" y1="1008.2" x2="785.6" y2="1036.25" stroke="#000" stroke-width="1.5"/>
<line x1="842" y1="1008.2" x2="842" y2="1036.25" stroke="#000" stroke-width="1.5"/>
<line x1="813.5" y1="1036.25" x2="813.5" y2="1059.6" stroke="#000" stroke-width="1.5"/>
<line x1="892.7" y1="518.5" x2="892.7" y2="1035.1" stroke="#000" stroke-width="1.5"/>
<line x1="913.5" y1="505" x2="913.5" y2="1035.1" stroke="#000" stroke-width="1.5"/>
<line x1="886.3" y1="518.5" x2="913.5" y2="518.5" stroke="#000" stroke-width="1.5"/>
<line x1="892.7" y1="1035.1" x2="913.5" y2="1035.1" stroke="#000" stroke-width="1.5"/>
<line x1="902.9" y1="464.4" x2="902.9" y2="520" stroke="#000" stroke-width="1.3"/>
<line x1="902.9" y1="520" x2="902.9" y2="1002" stroke="#000" stroke-width="1.3" stroke-dasharray="28 3.5 5 3.5"/>
<line x1="902.9" y1="1002" x2="902.9" y2="1035.1" stroke="#000" stroke-width="1.3"/>
<path d="M913.5 529.6 L961.9 529.6 A7.6 7.6 0 0 1 961.9 544.8 L913.5 544.8" fill="none" stroke="#000" stroke-width="1.5"/>
<path d="M913.5 556.22 L961.9 556.22 A7.6 7.6 0 0 1 961.9 571.42 L913.5 571.42" fill="none" stroke="#000" stroke-width="1.5"/>
<path d="M913.5 582.84 L961.9 582.84 A7.6 7.6 0 0 1 961.9 598.04 L913.5 598.04" fill="none" stroke="#000" stroke-width="1.5"/>
<path d="M913.5 609.46 L961.9 609.46 A7.6 7.6 0 0 1 961.9 624.66 L913.5 624.66" fill="none" stroke="#000" stroke-width="1.5"/>
<path d="M913.5 636.08 L961.9 636.08 A7.6 7.6 0 0 1 961.9 651.28 L913.5 651.28" fill="none" stroke="#000" stroke-width="1.5"/>
<path d="M913.5 715.9 L961.9 715.9 A7.6 7.6 0 0 1 961.9 731.1 L913.5 731.1" fill="none" stroke="#000" stroke-width="1.5"/>
<path d="M913.5 742.52 L961.9 742.52 A7.6 7.6 0 0 1 961.9 757.72 L913.5 757.72" fill="none" stroke="#000" stroke-width="1.5"/>
<path d="M913.5 769.14 L961.9 769.14 A7.6 7.6 0 0 1 961.9 784.34 L913.5 784.34" fill="none" stroke="#000" stroke-width="1.5"/>
<path d="M913.5 795.76 L961.9 795.76 A7.6 7.6 0 0 1 961.9 810.96 L913.5 810.96" fill="none" stroke="#000" stroke-width="1.5"/>
<path d="M913.5 822.38 L961.9 822.38 A7.6 7.6 0 0 1 961.9 837.58 L913.5 837.58" fill="none" stroke="#000" stroke-width="1.5"/>
<path d="M913.5 902.4 L961.9 902.4 A7.6 7.6 0 0 1 961.9 917.6 L913.5 917.6" fill="none" stroke="#000" stroke-width="1.5"/>
<path d="M913.5 929.15 L961.9 929.15 A7.6 7.6 0 0 1 961.9 944.35 L913.5 944.35" fill="none" stroke="#000" stroke-width="1.5"/>
<path d="M913.5 955.9 L961.9 955.9 A7.6 7.6 0 0 1 961.9 971.1 L913.5 971.1" fill="none" stroke="#000" stroke-width="1.5"/>
<path d="M913.5 982.65 L961.9 982.65 A7.6 7.6 0 0 1 961.9 997.85 L913.5 997.85" fill="none" stroke="#000" stroke-width="1.5"/>
<path d="M913.5 1009.4 L961.9 1009.4 A7.6 7.6 0 0 1 961.9 1024.6 L913.5 1024.6" fill="none" stroke="#000" stroke-width="1.5"/>
<rect x="860.3" y="578.4" width="24.2" height="20.9" fill="#000"/>
<rect x="884.5" y="582.1" width="8" height="13.5" fill="#000"/>
<rect x="863" y="584.35" width="1.6" height="9" fill="#fff"/>
<rect x="866" y="584.85" width="4.5" height="3" fill="#fff"/>
<rect x="866" y="589.85" width="4.5" height="3" fill="#fff"/>
<rect x="872.5" y="587.05" width="8" height="1.2" fill="#fff"/>
<rect x="872.5" y="589.65" width="8" height="1.2" fill="#fff"/>
<rect x="885.5" y="586.55" width="5.5" height="1.4" fill="#fff"/>
<rect x="885.5" y="590.05" width="5.5" height="1.4" fill="#fff"/>
<rect x="881" y="582.4" width="1.3" height="12.9" fill="#fff"/>
<rect x="860.3" y="954.4" width="24.2" height="20.8" fill="#000"/>
<rect x="884.5" y="958.1" width="8" height="13.4" fill="#000"/>
<rect x="863" y="960.3" width="1.6" height="9" fill="#fff"/>
<rect x="866" y="960.8" width="4.5" height="3" fill="#fff"/>
<rect x="866" y="965.8" width="4.5" height="3" fill="#fff"/>
<rect x="872.5" y="963" width="8" height="1.2" fill="#fff"/>
<rect x="872.5" y="965.6" width="8" height="1.2" fill="#fff"/>
<rect x="885.5" y="962.5" width="5.5" height="1.4" fill="#fff"/>
<rect x="885.5" y="966" width="5.5" height="1.4" fill="#fff"/>
<rect x="881" y="958.4" width="1.3" height="12.8" fill="#fff"/>
<line x1="860" y1="430.7" x2="969.5" y2="430.7" stroke="#000" stroke-width="1.3"/>
<path d="M860 430.7 L871.5 429.1 L871.5 432.3 Z" fill="#000"/>
<path d="M969.5 430.7 L958 432.3 L958 429.1 Z" fill="#000"/>
<line x1="969.5" y1="430.7" x2="969.5" y2="537" stroke="#000" stroke-width="1.3"/>
<text x="871.5" y="426.3" font-size="25" fill="#000" style="font-family:'Liberation Serif', serif;white-space:pre" textLength="86" lengthAdjust="spacingAndGlyphs">159–164</text>
<line x1="782.8" y1="464.4" x2="902.6" y2="464.4" stroke="#000" stroke-width="1.3"/>
<path d="M860 464.4 L871.5 462.8 L871.5 466 Z" fill="#000"/>
<path d="M902.9 464.4 L891.4 466 L891.4 462.8 Z" fill="#000"/>
<text x="786" y="460" font-size="25" fill="#000" style="font-family:'Liberation Serif', serif;white-space:pre" textLength="61" lengthAdjust="spacingAndGlyphs">64–69</text>
<line x1="913.5" y1="505" x2="969.5" y2="505" stroke="#000" stroke-width="1.3"/>
<path d="M913.5 505 L925 503.4 L925 506.6 Z" fill="#000"/>
<path d="M969.5 505 L958 506.6 L958 503.4 Z" fill="#000"/>
<text x="929.8" y="500" font-size="25" fill="#000" style="font-family:'Liberation Serif', serif;white-space:pre" textLength="23.5" lengthAdjust="spacingAndGlyphs">80</text>
<line x1="887.8" y1="518.5" x2="887.8" y2="580" stroke="#000" stroke-width="1.3"/>
<path d="M887.8 518.5 L889.4 530 L886.2 530 Z" fill="#000"/>
<g transform="translate(876.1 553.6) rotate(-90)"><text x="0" y="8.25" font-size="25" font-family="Liberation Serif" text-anchor="middle" textLength="34" lengthAdjust="spacingAndGlyphs">100</text></g>
<line x1="962" y1="537.2" x2="1008" y2="537.2" stroke="#000" stroke-width="1.3"/>
<line x1="962" y1="643.68" x2="1008" y2="643.68" stroke="#000" stroke-width="1.3"/>
<line x1="1006.7" y1="537.2" x2="1006.7" y2="643.68" stroke="#000" stroke-width="1.3"/>
<path d="M1006.7 537.2 L1008.3 548.7 L1005.1 548.7 Z" fill="#000"/>
<path d="M1006.7 643.68 L1005.1 632.18 L1008.3 632.18 Z" fill="#000"/>
<g transform="translate(995.2 590.2) rotate(-90)"><text x="0" y="8.25" font-size="25" font-family="Liberation Serif" text-anchor="middle" textLength="35" lengthAdjust="spacingAndGlyphs">152</text></g>
<rect x="808.1" y="1185.8" width="62.5" height="62.5" fill="none" stroke="#000" stroke-width="2"/>
<rect x="811" y="1188.7" width="56.7" height="56.4" fill="none" stroke="#000" stroke-width="1.8"/>
<line x1="792.9" y1="1185.3" x2="899.5" y2="1185.3" stroke="#000" stroke-width="1.3"/>
<line x1="792.9" y1="1188.2" x2="811" y2="1188.2" stroke="#000" stroke-width="1.3"/>
<line x1="794" y1="1164.2" x2="794" y2="1185.3" stroke="#000" stroke-width="1.3"/>
<path d="M794 1185.3 L792.4 1173.8 L795.6 1173.8 Z" fill="#000"/>
<line x1="794" y1="1188.2" x2="794" y2="1250" stroke="#000" stroke-width="1.3"/>
<path d="M794 1188.2 L795.6 1199.7 L792.4 1199.7 Z" fill="#000"/>
<g transform="translate(782 1228.7) rotate(-90)"><text x="0" y="8.25" font-size="25" font-family="Liberation Serif" text-anchor="middle" textLength="34.5" lengthAdjust="spacingAndGlyphs">1.5</text></g>
<circle cx="839.4" cy="1215.5" r="19.8" fill="none" stroke="#000" stroke-width="1.8"/>
<path d="M817 1215.5 A22.4 22.4 0 1 1 839.4 1237.9" fill="none" stroke="#000" stroke-width="1.8"/>
<line x1="814.3" y1="1215.5" x2="830" y2="1215.5" stroke="#000" stroke-width="1.5"/>
<line x1="836.5" y1="1215.5" x2="842.5" y2="1215.5" stroke="#000" stroke-width="1.5"/>
<line x1="847.5" y1="1215.5" x2="864.3" y2="1215.5" stroke="#000" stroke-width="1.5"/>
<line x1="839.5" y1="1190.8" x2="839.5" y2="1207.5" stroke="#000" stroke-width="1.5"/>
<line x1="839.5" y1="1212.5" x2="839.5" y2="1218.5" stroke="#000" stroke-width="1.5"/>
<line x1="839.5" y1="1223" x2="839.5" y2="1240.2" stroke="#000" stroke-width="1.5"/>
<line x1="808.1" y1="1248.3" x2="808.1" y2="1274" stroke="#000" stroke-width="1.3"/>
<line x1="870.6" y1="1248.3" x2="870.6" y2="1274" stroke="#000" stroke-width="1.3"/>
<line x1="808.1" y1="1272.4" x2="870.6" y2="1272.4" stroke="#000" stroke-width="1.3"/>
<path d="M808.1 1272.4 L819.6 1270.8 L819.6 1274 Z" fill="#000"/>
<path d="M870.6 1272.4 L859.1 1274 L859.1 1270.8 Z" fill="#000"/>
<text x="828.1" y="1268.4" font-size="25" fill="#000" style="font-family:'Liberation Serif', serif;white-space:pre" textLength="23.5" lengthAdjust="spacingAndGlyphs">30</text>
<line x1="870.6" y1="1248.3" x2="900.3" y2="1248.3" stroke="#000" stroke-width="1.3"/>
<line x1="898.7" y1="1185.3" x2="898.7" y2="1248.3" stroke="#000" stroke-width="1.3"/>
<path d="M898.7 1185.3 L900.3 1196.8 L897.1 1196.8 Z" fill="#000"/>
<path d="M898.7 1248.3 L897.1 1236.8 L900.3 1236.8 Z" fill="#000"/>
<g transform="translate(886.2 1216.7) rotate(-90)"><text x="0" y="8.25" font-size="25" font-family="Liberation Serif" text-anchor="middle" textLength="21.6" lengthAdjust="spacingAndGlyphs">30</text></g>
<line x1="889.9" y1="1110.5" x2="889.9" y2="1159.5" stroke="#000" stroke-width="1.3"/>
<path d="M889.9 1159.5 L888.3 1148 L891.5 1148 Z" fill="#000"/>
<line x1="889.9" y1="1185.3" x2="889.9" y2="1206" stroke="#000" stroke-width="1.3"/>
<path d="M889.9 1185.3 L891.5 1196.8 L888.3 1196.8 Z" fill="#000"/>
<g transform="translate(878.6 1124.1) rotate(-90)"><text x="0" y="8.25" font-size="25" font-family="Liberation Serif" text-anchor="middle" textLength="22.4" lengthAdjust="spacingAndGlyphs">12</text></g>
<line x1="813.7" y1="1114.5" x2="813.7" y2="1159.4" stroke="#000" stroke-width="1.3"/>
<line x1="864.2" y1="1114.5" x2="864.2" y2="1159.5" stroke="#000" stroke-width="1.3"/>
<line x1="864.2" y1="1159.5" x2="890.7" y2="1159.5" stroke="#000" stroke-width="1.3"/>
<line x1="813.7" y1="1114.5" x2="864.2" y2="1114.5" stroke="#000" stroke-width="1.3"/>
<path d="M813.7 1114.5 L825.2 1112.9 L825.2 1116.1 Z" fill="#000"/>
<path d="M864.2 1114.5 L852.7 1116.1 L852.7 1112.9 Z" fill="#000"/>
<text x="828.1" y="1109.7" font-size="25" fill="#000" style="font-family:'Liberation Serif', serif;white-space:pre" textLength="23.5" lengthAdjust="spacingAndGlyphs">24</text>
<text x="783.6" y="1145.7" font-size="25" fill="#000" style="font-family:'Liberation Serif', serif;white-space:pre" textLength="14.5" lengthAdjust="spacingAndGlyphs">M</text>
<text x="797.2" y="1145.7" font-size="25" fill="#000" style="font-family:'Liberation Serif', serif;white-space:pre">6</text>
<line x1="780" y1="1149.7" x2="868.2" y2="1149.7" stroke="#000" stroke-width="1.3"/>
<path d="M831.3 1149.7 L819.8 1151.3 L819.8 1148.1 Z" fill="#000"/>
<path d="M846.6 1149.7 L858.1 1148.1 L858.1 1151.3 Z" fill="#000"/>
<rect x="832" y="1149.5" width="14.5" height="11.1" fill="none" stroke="#000" stroke-width="1.6"/>
<line x1="833.5" y1="1161" x2="833.5" y2="1170" stroke="#aaa" stroke-width="1"/>
<line x1="845.3" y1="1161" x2="845.3" y2="1170" stroke="#aaa" stroke-width="1"/>
<line x1="814.5" y1="1159.4" x2="814.5" y2="1185" stroke="#bbb" stroke-width="1"/>
<line x1="864.2" y1="1158.6" x2="864.2" y2="1185" stroke="#bbb" stroke-width="1"/>
<line x1="820.6" y1="1170.6" x2="858.1" y2="1170.6" stroke="#000" stroke-width="1.8"/>
<line x1="820.6" y1="1170.6" x2="820.6" y2="1185" stroke="#777" stroke-width="1.2"/>
<line x1="858.1" y1="1170.6" x2="858.1" y2="1185" stroke="#777" stroke-width="1.2"/>
</svg></body></html>
